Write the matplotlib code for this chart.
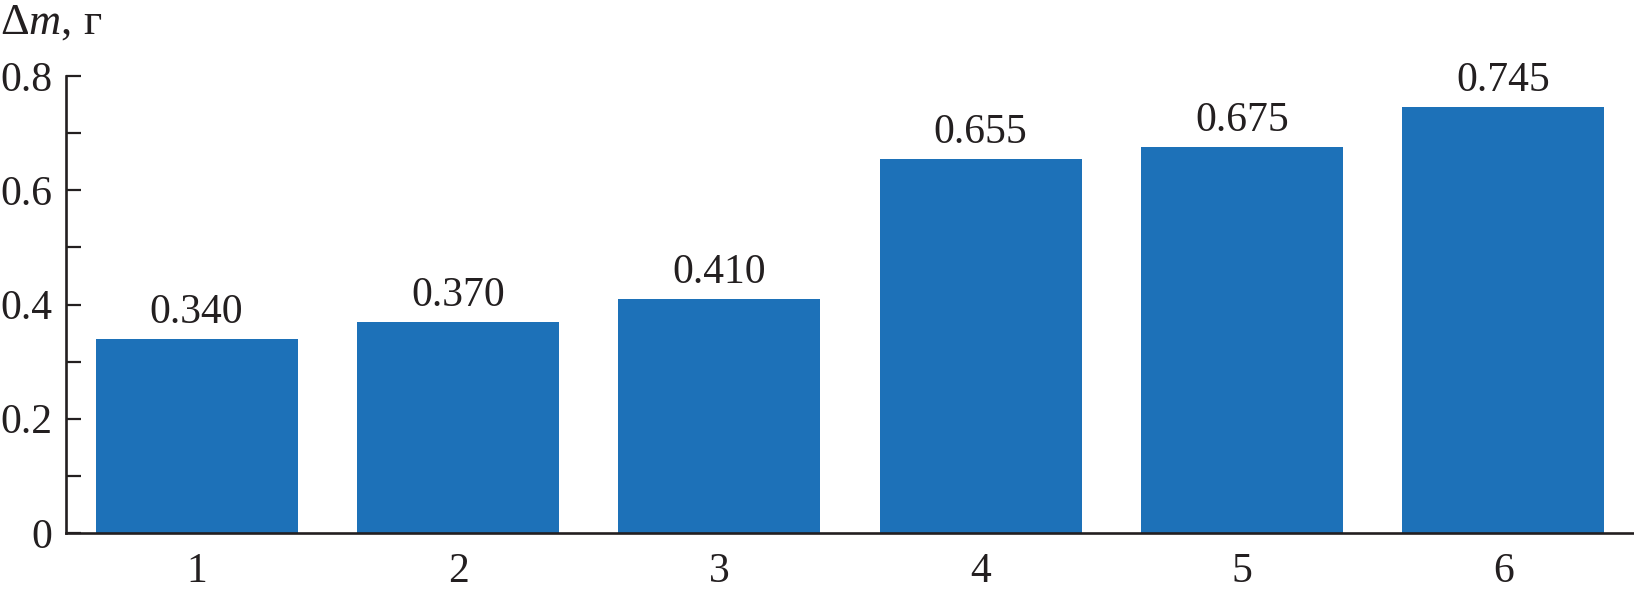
import matplotlib.pyplot as plt
import numpy as np

plt.rcParams['font.family'] = ['Liberation Serif', 'DejaVu Serif']
plt.rcParams['mathtext.fontset'] = 'custom'
plt.rcParams['mathtext.it'] = 'Liberation Serif:italic'
plt.rcParams['mathtext.rm'] = 'Liberation Serif'

samples = [1, 2, 3, 4, 5, 6]
mass_loss = [0.340, 0.370, 0.410, 0.655, 0.675, 0.745]
value_labels = ['0.340', '0.370', '0.410', '0.655', '0.675', '0.745']
yticks = [0, 0.2, 0.4, 0.6, 0.8]
ytick_labels = ['0', '0.2', '0.4', '0.6', '0.8']

dark = '#231f20'
fs = 30
fig = plt.figure(figsize=(16.34, 5.93), dpi=100)
ax = fig.add_axes([0.0404, 0.1012, 0.9596, 0.7706])

bars = ax.bar(samples, mass_loss, width=0.773, color='#1d71b8')
for b, lab in zip(bars, value_labels):
    ax.annotate(lab, (b.get_x() + b.get_width() / 2, b.get_height()),
                xytext=(0, 5), textcoords='offset points',
                ha='center', va='bottom', fontsize=fs, color=dark)

ax.set_xlim(0.5, 6.5)
ax.set_ylim(0, 0.8)
ax.set_xticks(samples)
ax.set_xticklabels([str(s) for s in samples])
ax.set_yticks(yticks)
ax.set_yticklabels(ytick_labels)
ax.set_yticks(np.arange(0.1, 0.8, 0.2), minor=True)

ax.tick_params(axis='y', which='both', direction='in', length=11, width=1.6,
               color=dark, labelsize=fs, labelcolor=dark, pad=10)
ax.tick_params(axis='x', length=0, labelsize=fs, labelcolor=dark, pad=14)

for s in ['top', 'right']:
    ax.spines[s].set_visible(False)
for s in ['left', 'bottom']:
    ax.spines[s].set_linewidth(1.9)
    ax.spines[s].set_color(dark)

fig.text(0.0, 0.944, r'$\Delta\mathit{m}$, г', fontsize=32, color=dark,
         ha='left', va='baseline')

fig.savefig('out.png', dpi=100)
